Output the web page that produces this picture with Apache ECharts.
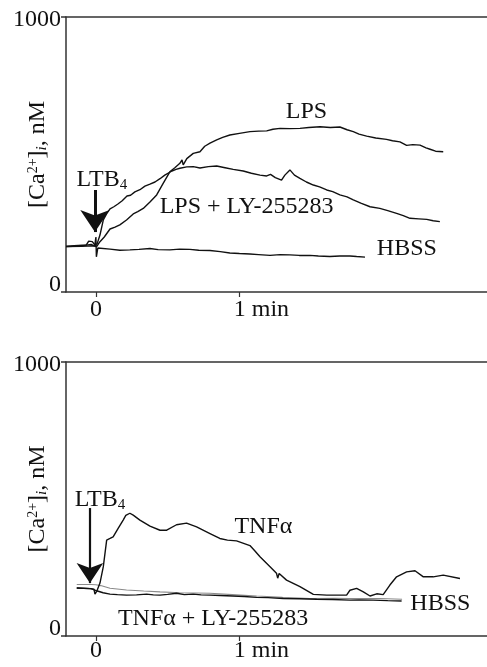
<!DOCTYPE html>
<html>
<head>
<meta charset="utf-8">
<script src="https://cdn.jsdelivr.net/npm/echarts@6.0.0/dist/echarts.min.js"></script>
<style>
  html, body { margin: 0; padding: 0; background: #fff; }
  #chart { width: 487px; height: 667px; }
</style>
</head>
<body>
<div id="chart"></div>
<script>
// time in seconds after LTB4, [Ca2+]i in nM
const xTicks = [0, 60]
const xTickLabels = ['0', '1 min']
const yTicks = [0, 1000]

// top panel
const topHbss = [[-12.5,165],[-6.7,167],[-2,173],[-0.5,167],[0,200],[0.2,128],[0.8,160],[5.9,156],[10,152],[14.2,153],[18,155],[22.6,158],[26,154],[30.9,153],[35,156],[39.3,155],[43,152],[47.7,151],[52,147],[56,142],[60,140],[64.4,138],[68,136],[72.8,133],[77,136],[81.1,135],[85,133],[89.5,133],[93,131],[97.8,129],[102,131],[106.2,131],[109,129],[112.5,127]]
const topLps = [[-12.5,165],[-6,166],[-1,168],[0.3,165],[1.7,183],[3.5,200],[5.9,229],[8,236],[10,244],[12.8,262],[15.6,284],[17.5,292],[19.8,304],[22.6,327],[25.4,353],[28,393],[30.9,437],[33,452],[35.1,468],[36,480],[36.5,462],[38,485],[40.7,504],[43.5,510],[45.5,530],[47.7,541],[50.5,553],[53,562],[56,571],[60,577],[64.4,583],[68,585],[71.4,586],[74,592],[77,595],[81,594],[85.3,595],[89,598],[93.7,601],[98,598],[102,600],[105,590],[107.6,583],[110,574],[113.2,567],[117,560],[121.5,555],[124,550],[127.1,546],[129.9,533],[132.5,536],[135.5,534],[138,524],[139.7,519],[142,512],[145.2,510]]
const topLpsLy = [[-12.5,167],[-4,171],[-3,185],[-1.5,183],[-0.5,172],[0.5,175],[1.7,207],[3.1,262],[4.5,285],[5.9,302],[7.5,310],[9.2,320],[11,332],[13,349],[14.5,352],[16.3,364],[18.4,372],[20.5,385],[22.6,392],[24.7,400],[26.8,412],[28.8,425],[31.8,440],[33.5,446],[35.1,450],[38,455],[40.7,456],[43.5,451],[47,456],[50.5,458],[54,452],[57.4,446],[61.6,440],[65,432],[68.6,425],[71.4,422],[73,428],[75,416],[77.6,407],[79,425],[81.1,444],[83,425],[85.3,413],[88,400],[90.9,389],[93.5,382],[96.5,371],[99,365],[102,353],[105,346],[107.6,335],[111,322],[114.6,310],[118.7,304],[122,296],[125.7,286],[128.5,278],[131.3,268],[135,266],[138.3,264],[141,259],[143.8,256]]

// bottom panel
const botHbss = [[-8,188],[-2,188],[0,187],[2,184],[5.9,174],[12.8,168],[20,164],[26.8,161],[35,158],[47.7,156],[57,151],[67.2,146],[78,141],[89.5,137],[100,138],[106.2,137],[118.7,137],[128,134]]
const botTnfLy = [[-8,175],[-2,173],[0.3,165],[3,158],[5.9,153],[9,151],[12.8,149],[17,150],[21.2,153],[24,150],[26.8,149],[30,152],[33.7,156],[37,151],[40.7,153],[44,150],[47.7,149],[52,148],[57.3,146],[62,144],[67.2,141],[72,140],[78.3,137],[85,136],[92.3,134],[99,133],[106.2,131],[110,132],[115.9,131],[122,129],[127.8,128]]
const botTnf = [[-8,175],[-2.5,173],[-0.8,171],[-0.4,153],[0.4,164],[1.7,193],[3.1,253],[4.5,350],[5.9,356],[7.2,362],[9.3,393],[11.4,423],[12.5,440],[14.2,448],[15.6,441],[18.4,423],[22.6,401],[26.8,386],[29.6,386],[33.7,406],[37.9,412],[42.1,398],[47.7,374],[51.8,356],[55,350],[58.8,347],[64.4,330],[66.5,310],[68.6,289],[72.8,253],[75.5,229],[76,211],[76.6,228],[79.7,204],[85.3,180],[90.9,152],[96.5,149],[104.8,149],[106.2,167],[109,174],[111.8,161],[114.6,146],[117.4,154],[120.1,151],[122.9,186],[125.7,216],[129.9,234],[133.4,238],[136.9,216],[141,216],[145.2,222],[152.2,210]]

// labels: [t, value, text]
const topNotes = [[88, 656, 'LPS'], [63, 310, 'LPS + LY-255283'], [130, 159, 'HBSS'], [2.5, 407, 'LTB{s|4}']]
const botNotes = [[70, 400, 'TNFα'], [49, 64, 'TNFα + LY-255283'], [144, 119, 'HBSS'], [1.7, 496, 'LTB{s|4}']]
// LTB4 arrows: [t, from, to]
const topArrow = [-0.4, 371, 218]
const botArrow = [-2.5, 467, 193]

const FONT = '"Liberation Serif", "Times New Roman", serif'
const INK = '#111'

let chart = echarts.init(document.getElementById('chart'))

const xAxisFor = (grid) => ({
    gridIndex: grid,
    type: 'value',
    min: -12.5,
    max: 163.5,
    axisLine: { show: true, onZero: false, lineStyle: { color: '#333', width: 1.5 } },
    axisTick: { show: true, customValues: xTicks, length: 5, lineStyle: { color: '#333', width: 1.2 } },
    axisLabel: {
        show: true,
        customValues: xTicks,
        margin: grid === 0 ? 6 : 3,
        color: INK,
        fontFamily: FONT,
        fontSize: 24,
        formatter: v => v === 0 ? xTickLabels[0] : '{mn|' + xTickLabels[1] + '}',
        rich: { mn: { padding: [0, 0, 0, 44] } }
    },
    splitLine: { show: false }
})

const topBorder = (grid) => ({
    gridIndex: grid,
    type: 'value',
    position: 'top',
    min: -12.5,
    max: 163.5,
    axisLine: { show: true, onZero: false, lineStyle: { color: '#333', width: 1.5 } },
    axisTick: { show: false },
    axisLabel: { show: false },
    splitLine: { show: false }
})

const yAxisFor = (grid) => ({
    gridIndex: grid,
    type: 'value',
    min: 0,
    max: 1000,
    name: '[Ca{sup|2+}]{sub|i}, nM',
    nameLocation: 'middle',
    nameGap: 16,
    nameMoveOverlap: false,
    nameTextStyle: {
        color: INK,
        fontFamily: FONT,
        fontSize: 24,
        rich: {
            sup: { fontSize: 14, lineHeight: 10, verticalAlign: 'top' },
            sub: { fontSize: 15, lineHeight: 12, verticalAlign: 'bottom', fontStyle: 'italic' }
        }
    },
    axisLine: { show: true, onZero: false, lineStyle: { color: '#333', width: 1.5 } },
    axisTick: { show: true, customValues: yTicks, length: 5, lineStyle: { color: '#333', width: 1.5 } },
    axisLabel: {
        show: true,
        customValues: yTicks,
        margin: 5,
        color: INK,
        fontFamily: FONT,
        fontSize: 24,
        formatter: v => v === 0 ? '{lo|0}' : '{hi|1000}',
        rich: {
            lo: { padding: [0, 0, 14, 0] },
            hi: { padding: [6, 0, 0, 0] }
        }
    },
    splitLine: { show: false }
})

const noteLayer = (notes) => ({
    symbol: 'circle',
    symbolSize: 1,
    silent: true,
    itemStyle: { color: 'rgba(0,0,0,0)' },
    label: {
        show: true,
        position: 'inside',
        color: INK,
        fontFamily: FONT,
        fontSize: 24,
        formatter: p => p.name,
        rich: { s: { fontSize: 15, lineHeight: 14, verticalAlign: 'bottom' } }
    },
    data: notes.map(n => ({ name: n[2], coord: [n[0], n[1]] }))
})

const arrowLayer = (a, w, size) => ({
    silent: true,
    symbol: ['none', 'arrow'],
    symbolSize: size,
    label: { show: false },
    lineStyle: { color: INK, width: w, type: 'solid' },
    data: [[{ coord: [a[0], a[1]] }, { coord: [a[0], a[2]] }]]
})

const trace = (data, xi, yi, color, width) => ({
    type: 'line',
    xAxisIndex: xi,
    yAxisIndex: yi,
    data: data,
    symbol: 'none',
    showSymbol: false,
    silent: true,
    lineStyle: { color: color, width: width }
})

let opt = {
    animation: false,
    grid: [
        { left: 66, right: 0, top: 17, height: 275, outerBoundsMode: 'none', containLabel: false },
        { left: 66, right: 0, top: 362, height: 274, outerBoundsMode: 'none', containLabel: false }
    ],
    xAxis: [xAxisFor(0), topBorder(0), xAxisFor(1), topBorder(1)],
    yAxis: [yAxisFor(0), yAxisFor(1)],
    series: [
        Object.assign(trace(topHbss, 0, 0, INK, 1.4), { markPoint: noteLayer(topNotes), markLine: arrowLayer(topArrow, 3, 22) }),
        trace(topLps, 0, 0, INK, 1.4),
        trace(topLpsLy, 0, 0, INK, 1.4),
        Object.assign(trace(botHbss, 2, 1, '#8a8a8a', 1.1), { markPoint: noteLayer(botNotes), markLine: arrowLayer(botArrow, 2.2, 20) }),
        trace(botTnfLy, 2, 1, INK, 1.4),
        trace(botTnf, 2, 1, INK, 1.4)
    ]
}
chart.setOption(opt)
</script>
</body>
</html>
